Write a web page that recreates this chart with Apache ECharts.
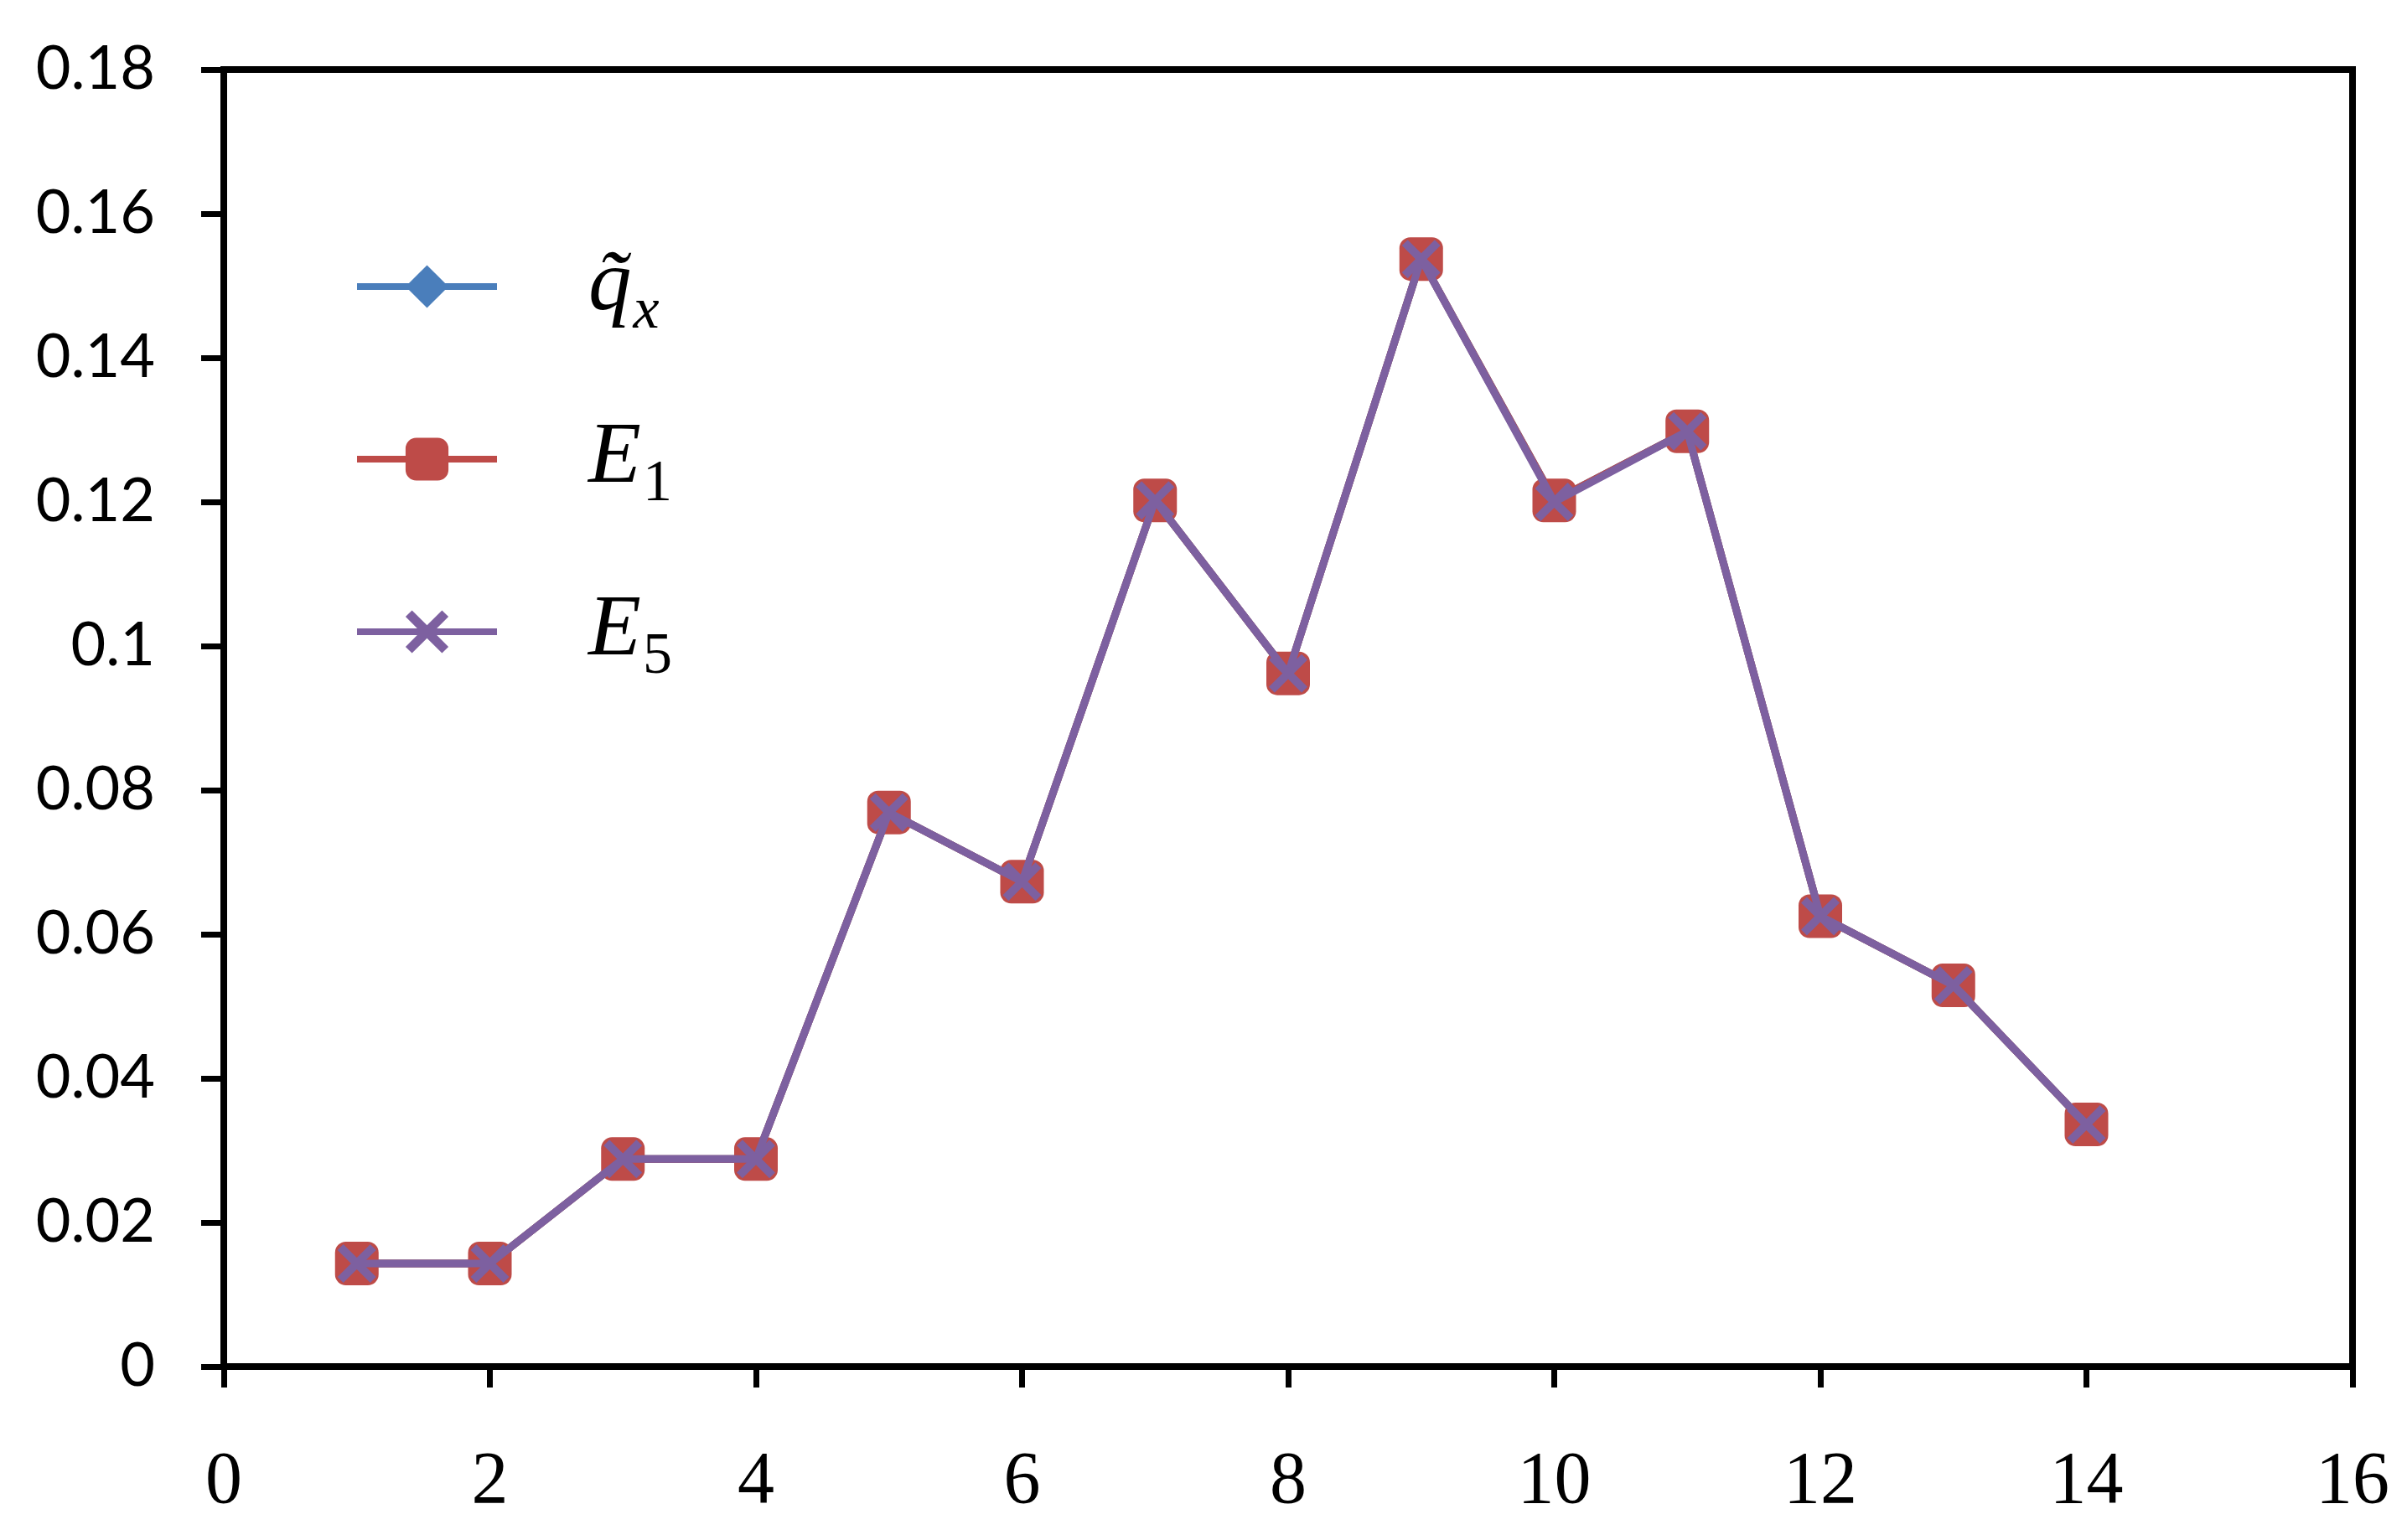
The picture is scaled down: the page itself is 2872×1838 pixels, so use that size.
<!DOCTYPE html>
<html>
<head>
<meta charset="utf-8">
<script src="https://cdn.jsdelivr.net/npm/echarts@6/dist/echarts.min.js"></script>
<style>
html,body{margin:0;padding:0;background:#fff;}
#chart{width:2872px;height:1838px;}
</style>
</head>
<body>
<div id="chart"></div>
<script>
// ---- data ----
const xValues = [1, 2, 3, 4, 5, 6, 7, 8, 9, 10, 11, 12, 13, 14];
const qxValues = [0.0143, 0.0143, 0.0288, 0.0288, 0.0769, 0.0673, 0.1202, 0.0962, 0.1537, 0.1202, 0.1298, 0.0625, 0.0529, 0.0336];
const e1Values = [0.0143, 0.0143, 0.0288, 0.0288, 0.0769, 0.0673, 0.1202, 0.0962, 0.1537, 0.1202, 0.1298, 0.0625, 0.0529, 0.0336];
const e5Values = [0.0143, 0.0143, 0.0288, 0.0288, 0.0769, 0.0673, 0.1202, 0.0962, 0.1537, 0.1200, 0.1298, 0.0625, 0.0529, 0.0336];
const seriesNames = ['qx', 'E1', 'E5'];
const legendLabels = {
  qx: '{mp|q\u0303}{sx|x}',
  E1: '{mp|E}{s|1}',
  E5: '{mp|E}{s|5}'
};

function pairs(ys) { return xValues.map((x, i) => [x, ys[i]]); }

const crossPath = 'path://M3,0 L10,7 L17,0 L20,3 L13,10 L20,17 L17,20 L10,13 L3,20 L0,17 L7,10 L0,3 Z';

const chart = echarts.init(document.getElementById('chart'), null, {renderer: 'canvas'});
const serif = '"Liberation Serif", "Times New Roman", serif';

chart.setOption({
  animation: false,
  backgroundColor: '#ffffff',
  grid: {
    left: 267, right: 65, top: 83, bottom: 207,
    show: true, borderColor: '#000', borderWidth: 8, backgroundColor: 'transparent'
  },
  legend: {
    orient: 'vertical',
    left: 417, top: 271, padding: 5,
    itemWidth: 167, itemHeight: 64, itemGap: 74,
    data: seriesNames,
    lineStyle: {width: 8},
    formatter: name => legendLabels[name],
    textStyle: {
      color: '#000',
      rich: {
        mp: {fontFamily: serif, fontStyle: 'italic', fontSize: 103, lineHeight: 110, padding: [0, 0, 0, 104], color: '#000'},
        s: {fontFamily: serif, fontSize: 70, lineHeight: 56, padding: [62, 0, 0, 2], color: '#000'},
        sx: {fontFamily: serif, fontStyle: 'italic', fontSize: 70, lineHeight: 56, padding: [62, 0, 0, 2], color: '#000'}
      }
    }
  },
  xAxis: {
    type: 'value', min: 0, max: 16, interval: 2,
    axisLine: {show: true, onZero: false, lineStyle: {color: '#000', width: 8}},
    axisTick: {show: true, inside: false, length: 25, lineStyle: {color: '#000', width: 7}},
    splitLine: {show: false},
    axisLabel: {fontFamily: serif, fontSize: 88, color: '#000', margin: 95}
  },
  yAxis: {
    type: 'value', min: 0, max: 0.18, interval: 0.02,
    axisLine: {show: true, onZero: false, lineStyle: {color: '#000', width: 8}},
    axisTick: {show: true, inside: false, length: 27, lineStyle: {color: '#000', width: 7}},
    splitLine: {show: false},
    axisLabel: {fontFamily: 'Lato, "Open Sans", sans-serif', fontSize: 72, color: '#000', margin: 82}
  },
  series: [
    {
      name: 'qx', type: 'line', data: pairs(qxValues),
      symbol: 'diamond', symbolSize: 48,
      lineStyle: {color: '#4A7EBB', width: 9},
      itemStyle: {color: '#4A7EBB'},
      z: 2
    },
    {
      name: 'E1', type: 'line', data: pairs(e1Values),
      symbol: 'roundRect', symbolSize: 52,
      lineStyle: {color: '#BE4B48', width: 9},
      itemStyle: {color: '#BE4B48'},
      z: 3
    },
    {
      name: 'E5', type: 'line', data: pairs(e5Values),
      symbol: crossPath, symbolSize: 46,
      lineStyle: {color: '#7D60A0', width: 9},
      itemStyle: {color: '#7D60A0'},
      z: 4
    }
  ]
});
</script>
</body>
</html>
